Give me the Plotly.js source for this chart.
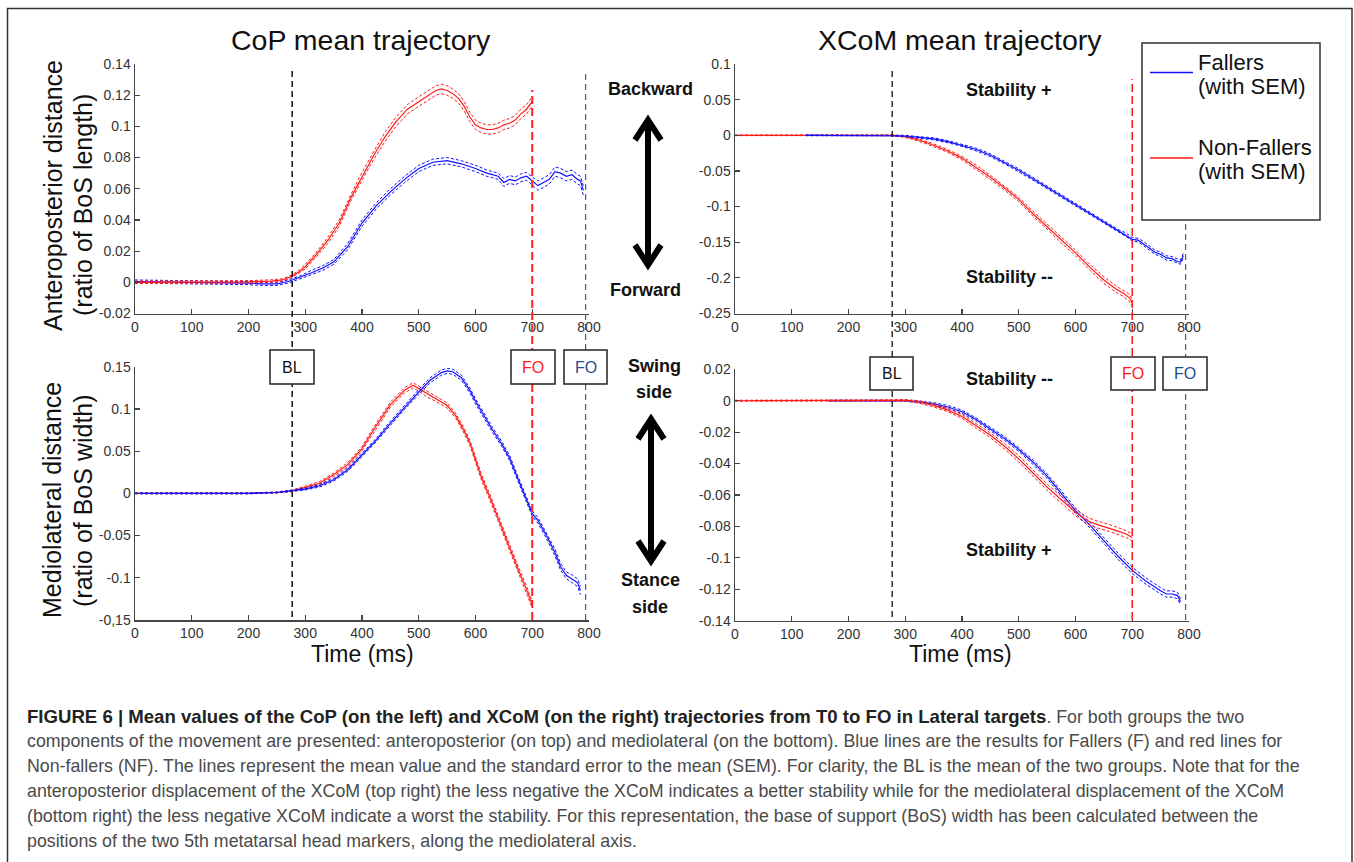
<!DOCTYPE html>
<html>
<head>
<meta charset="utf-8">
<script src="https://cdn.plot.ly/plotly-3.0.1.min.js"></script>
<style>html,body{margin:0;padding:0;background:#fff;}#chart{width:1354px;height:862px;}</style>
</head>
<body>
<div id="chart"></div>
<script>
// ---------- DATA ----------
// CoP anteroposterior (top-left)
const copAP_F_t = [0,50,100,150,200,225,250,270,290,310,330,350,375,400,425,450,475,500,525,550,575,600,620,640,650,660,670,680,690,700,710,720,730,740,750,760,770,780,785,790];
const copAP_F_m = [0.0005,0.0003,0,0,-0.0005,-0.001,-0.001,0.0005,0.003,0.006,0.009,0.013,0.023,0.038,0.049,0.058,0.066,0.073,0.077,0.078,0.076,0.073,0.070,0.068,0.064,0.066,0.065,0.067,0.068,0.065,0.062,0.064,0.066,0.071,0.070,0.068,0.069,0.066,0.065,0.059];
const copAP_F_s = [0.001,0.001,0.001,0.001,0.001,0.001,0.001,0.001,0.001,0.0015,0.0015,0.0015,0.002,0.002,0.002,0.002,0.002,0.002,0.002,0.002,0.002,0.002,0.002,0.002,0.0025,0.0025,0.0025,0.0025,0.0025,0.0025,0.003,0.003,0.003,0.003,0.003,0.003,0.003,0.003,0.003,0.003];
const copAP_NF_t = [0,50,100,150,200,240,260,277,290,300,320,340,360,380,400,420,440,460,480,500,520,530,540,550,560,570,580,590,600,610,620,630,640,650,660,670,680,690,700];
const copAP_NF_m = [0,0,0,0,0.0003,0.0008,0.0015,0.004,0.007,0.010,0.018,0.027,0.038,0.054,0.068,0.081,0.093,0.103,0.111,0.116,0.121,0.123,0.124,0.123,0.121,0.118,0.113,0.106,0.101,0.099,0.098,0.098,0.099,0.101,0.102,0.104,0.108,0.111,0.116];
const copAP_NF_s = [0.0008,0.0008,0.0008,0.0008,0.0008,0.0008,0.0008,0.0008,0.001,0.0015,0.0015,0.002,0.002,0.002,0.0025,0.0025,0.003,0.003,0.003,0.003,0.003,0.003,0.003,0.003,0.003,0.003,0.003,0.003,0.003,0.003,0.003,0.003,0.003,0.003,0.003,0.003,0.003,0.003,0.003];

// XCoM anteroposterior (top-right)
const xcomAP_F_t = [125,150,200,250,277,300,325,350,375,400,425,450,475,500,525,550,575,600,625,650,675,690,700,710,720,730,740,750,760,770,780,785,790];
const xcomAP_F_m = [0,0,0,0,0,-0.001,-0.003,-0.005,-0.009,-0.014,-0.020,-0.028,-0.038,-0.049,-0.061,-0.073,-0.085,-0.098,-0.110,-0.122,-0.134,-0.140,-0.146,-0.147,-0.152,-0.158,-0.164,-0.167,-0.172,-0.173,-0.177,-0.178,-0.169];
const xcomAP_F_s = [0.0005,0.0005,0.0005,0.0005,0.0005,0.001,0.001,0.0015,0.0015,0.0015,0.002,0.002,0.002,0.002,0.002,0.002,0.002,0.002,0.002,0.002,0.002,0.0025,0.0025,0.0025,0.003,0.003,0.003,0.003,0.003,0.003,0.003,0.003,0.003];
const xcomAP_NF_t = [0,50,100,150,200,250,277,300,325,350,375,400,425,450,475,500,525,550,575,600,625,650,670,685,695,700];
const xcomAP_NF_m = [0,0,0,0,0,0,0,-0.002,-0.007,-0.014,-0.022,-0.032,-0.045,-0.059,-0.074,-0.090,-0.110,-0.128,-0.147,-0.165,-0.185,-0.203,-0.215,-0.222,-0.228,-0.235];
const xcomAP_NF_s = [0.0005,0.0005,0.0005,0.0005,0.0005,0.0005,0.0005,0.001,0.0015,0.002,0.002,0.0025,0.003,0.003,0.003,0.003,0.0035,0.0035,0.004,0.004,0.004,0.0045,0.0045,0.0045,0.005,0.005];

// CoP mediolateral (bottom-left)
const copML_F_t = [0,50,100,150,200,250,277,300,325,350,375,400,425,450,475,500,520,540,550,560,575,590,600,615,630,645,660,675,690,700,710,725,740,750,760,770,780,785];
const copML_F_m = [0,0,0,0,0,0.001,0.003,0.005,0.009,0.016,0.028,0.045,0.063,0.083,0.102,0.120,0.134,0.143,0.145,0.144,0.137,0.122,0.109,0.092,0.075,0.060,0.042,0.017,-0.008,-0.024,-0.032,-0.050,-0.070,-0.087,-0.097,-0.101,-0.106,-0.115];
const copML_F_s = [0.0005,0.0005,0.0005,0.0005,0.0005,0.0005,0.001,0.001,0.0015,0.0015,0.002,0.002,0.002,0.0025,0.0025,0.003,0.003,0.003,0.003,0.003,0.003,0.003,0.003,0.003,0.003,0.003,0.003,0.003,0.003,0.003,0.0035,0.0035,0.004,0.004,0.004,0.0045,0.0045,0.005];
const copML_NF_t = [0,50,100,150,200,250,277,300,325,350,375,400,425,450,475,490,500,515,530,550,565,580,590,600,610,625,640,650,665,675,690,700];
const copML_NF_m = [0,0,0,0,0,0.001,0.003,0.007,0.012,0.022,0.034,0.053,0.080,0.105,0.122,0.128,0.124,0.117,0.112,0.104,0.092,0.074,0.060,0.040,0.020,-0.004,-0.030,-0.047,-0.072,-0.090,-0.114,-0.132];
const copML_NF_s = [0.0005,0.0005,0.0005,0.0005,0.0005,0.0005,0.001,0.0015,0.002,0.002,0.0025,0.0025,0.003,0.003,0.003,0.003,0.003,0.003,0.003,0.003,0.003,0.003,0.003,0.003,0.0035,0.0035,0.0035,0.0035,0.004,0.004,0.004,0.004];

// XCoM mediolateral (bottom-right)
const xcomML_F_t = [165,200,250,277,300,325,350,375,400,425,450,475,500,525,550,575,600,625,650,675,700,725,750,760,770,780,785];
const xcomML_F_m = [0,0,0,0,0,-0.0008,-0.002,-0.004,-0.007,-0.012,-0.018,-0.024,-0.031,-0.039,-0.048,-0.059,-0.070,-0.079,-0.089,-0.099,-0.108,-0.115,-0.121,-0.123,-0.123,-0.124,-0.128];
const xcomML_F_s = [0.0003,0.0003,0.0003,0.0003,0.0003,0.0005,0.0008,0.001,0.001,0.001,0.001,0.0012,0.0012,0.0015,0.0015,0.0015,0.0018,0.0018,0.002,0.002,0.002,0.002,0.002,0.002,0.002,0.002,0.002];
const xcomML_NF_t = [0,50,100,150,200,250,277,300,325,350,375,400,425,450,475,500,525,550,575,600,615,625,640,650,660,675,690,700];
const xcomML_NF_m = [0,0,0,0,0,0,0.0003,0.0003,-0.0008,-0.003,-0.006,-0.010,-0.016,-0.022,-0.029,-0.037,-0.046,-0.055,-0.063,-0.071,-0.075,-0.077,-0.079,-0.080,-0.081,-0.083,-0.085,-0.087];
const xcomML_NF_s = [0.0003,0.0003,0.0003,0.0003,0.0003,0.0003,0.0003,0.0005,0.0008,0.001,0.001,0.0012,0.0015,0.0015,0.0018,0.002,0.002,0.002,0.0022,0.0022,0.0022,0.0022,0.0022,0.0022,0.0022,0.0022,0.0022,0.0022];

// Event times (ms)
const eventBL = 277;
const eventFO_NF = 700;
const eventFO_F = 794;

// Tick labels
const xTicks = [0,100,200,300,400,500,600,700,800];
const yTicksTL = [-0.02,0,0.02,0.04,0.06,0.08,0.1,0.12,0.14];
const yTextTL = ['-0.02','0','0.02','0.04','0.06','0.08','0.1','0.12','0.14'];
const yTicksTR = [-0.25,-0.2,-0.15,-0.1,-0.05,0,0.05,0.1];
const yTextTR = ['-0.25','-0.2','-0.15','-0.1','-0.05','0','0.05','0.1'];
const yTicksBL = [-0.15,-0.1,-0.05,0,0.05,0.1,0.15];
const yTextBL = ['-0,15','-0.1','-0.05','0','0.05','0.1','0.15'];
const yTicksBR = [-0.14,-0.12,-0.1,-0.08,-0.06,-0.04,-0.02,0,0.02];
const yTextBR = ['-0.14','-0.12','-0.1','-0.08','-0.06','-0.04','-0.02','0','0.02'];

// ---------- DRAWING ----------
const W = 1354, H = 862;
const px = x => x / W;
const py = y => 1 - y / H;
const BLUE = '#1010ff', RED = '#ff1a1a';

const traces = [];
function addSeries(t, m, s, color, xa, ya) {
  const up = m.map((v, i) => v + s[i]);
  const lo = m.map((v, i) => v - s[i]);
  [up, lo].forEach(arr => traces.push({x: t, y: arr, xaxis: xa, yaxis: ya, type: 'scatter', mode: 'lines',
    line: {color: color, width: 1, dash: '3px,2px'}, hoverinfo: 'skip', showlegend: false}));
  traces.push({x: t, y: m, xaxis: xa, yaxis: ya, type: 'scatter', mode: 'lines',
    line: {color: color, width: 1.2}, showlegend: false});
}
addSeries(copAP_F_t, copAP_F_m, copAP_F_s, BLUE, 'x', 'y');
addSeries(copAP_NF_t, copAP_NF_m, copAP_NF_s, RED, 'x', 'y');
addSeries(xcomAP_NF_t, xcomAP_NF_m, xcomAP_NF_s, RED, 'x2', 'y2');
addSeries(xcomAP_F_t, xcomAP_F_m, xcomAP_F_s, BLUE, 'x2', 'y2');
addSeries(copML_NF_t, copML_NF_m, copML_NF_s, RED, 'x3', 'y3');
addSeries(copML_F_t, copML_F_m, copML_F_s, BLUE, 'x3', 'y3');
addSeries(xcomML_F_t, xcomML_F_m, xcomML_F_s, BLUE, 'x4', 'y4');
addSeries(xcomML_NF_t, xcomML_NF_m, xcomML_NF_s, RED, 'x4', 'y4');

const FONT = 'Liberation Sans, Arial, sans-serif';
const tickFont = {family: FONT, size: 14, color: '#333'};
function xAx(dom, anchor) {
  return {domain: dom, anchor: anchor, range: [0, 800], tickvals: xTicks, ticktext: xTicks.map(String),
    showline: true, linecolor: '#444', linewidth: 1.5, ticks: 'inside', ticklen: 5, tickcolor: '#444', tickwidth: 1.2,
    showgrid: false, zeroline: false, tickfont: tickFont, fixedrange: true};
}
function yAx(dom, anchor, range, vals, text) {
  return {domain: dom, anchor: anchor, range: range, tickvals: vals, ticktext: text,
    showline: true, linecolor: '#444', linewidth: 1.5, ticks: 'inside', ticklen: 5, tickcolor: '#444', tickwidth: 1.2,
    showgrid: false, zeroline: false, tickfont: tickFont, fixedrange: true};
}
const xL = [px(135), px(589)], xR = [px(735), px(1189)];

const shapes = [];
// outer frame
shapes.push({type: 'rect', xref: 'paper', yref: 'paper', x0: px(7.5), x1: px(1352), y0: py(880), y1: py(8.5),
  line: {color: '#333', width: 1.5}, fillcolor: 'rgba(0,0,0,0)', layer: 'below'});
// vertical event lines
function vline(xref, xv, yTop, yBot, color, width, dash) {
  shapes.push({type: 'line', xref: xref, yref: 'paper', x0: xv, x1: xv, y0: py(yBot), y1: py(yTop),
    line: {color: color, width: width, dash: dash}});
}
vline('x', eventBL, 71, 617, '#111', 1.5, '6px,4px');
vline('x', eventFO_NF, 90, 620, '#ff2020', 2, '8px,4px');
vline('x', eventFO_F, 71, 620, '#2d5ea8', 1.2, '6px,4px');
vline('x2', eventBL, 71, 617, '#111', 1.3, '6px,4px');
vline('x2', eventFO_NF, 79, 620, '#ff2020', 1.6, '8px,4px');
vline('x2', eventFO_F, 221, 620, '#2d5ea8', 1.2, '6px,4px');

// boxes
const annotations = [];
function box(x0, x1, y0, y1, text, color) {
  shapes.push({type: 'rect', xref: 'paper', yref: 'paper', x0: px(x0), x1: px(x1), y0: py(y1), y1: py(y0),
    line: {color: '#222', width: 1.5}, fillcolor: '#fff'});
  annotations.push({xref: 'paper', yref: 'paper', x: px((x0 + x1) / 2), y: py((y0 + y1) / 2), text: text,
    showarrow: false, xanchor: 'center', yanchor: 'middle', font: {family: FONT, size: 16, color: color}});
}
box(270, 314, 350, 384, 'BL', '#111');
box(511, 555, 350, 384, 'FO', '#ff1a1a');
box(564, 607, 350, 384, 'FO', '#1f4e8c');
box(870, 913, 357, 390, 'BL', '#111');
box(1111, 1155, 357, 390, 'FO', '#ff1a1a');
box(1163, 1207, 357, 390, 'FO', '#1f4e8c');

// legend box
shapes.push({type: 'rect', xref: 'paper', yref: 'paper', x0: px(1142), x1: px(1320), y0: py(220), y1: py(43),
  line: {color: '#333', width: 1.5}, fillcolor: '#fff'});
shapes.push({type: 'line', xref: 'paper', yref: 'paper', x0: px(1150), x1: px(1193), y0: py(72.5), y1: py(72.5),
  line: {color: BLUE, width: 1.5}});
shapes.push({type: 'line', xref: 'paper', yref: 'paper', x0: px(1150), x1: px(1193), y0: py(158), y1: py(158),
  line: {color: RED, width: 1.5}});
[['Fallers', 62], ['(with SEM)', 87], ['Non-Fallers', 147], ['(with SEM)', 172]].forEach(([t, y]) => {
  annotations.push({xref: 'paper', yref: 'paper', x: px(1196), y: py(y), text: t, showarrow: false,
    xanchor: 'left', yanchor: 'middle', font: {family: FONT, size: 22, color: '#111'}});
});

// double arrows
function dblArrow(x, yTop, yBot) {
  const hw = 13, hh = 22;
  const p = (a, b) => px(a) + ',' + py(b);
  const style = {color: '#000', width: 6};
  shapes.push({type: 'path', xref: 'paper', yref: 'paper', path: 'M' + p(x, yTop + 3) + ' L' + p(x, yBot - 3), line: style});
  shapes.push({type: 'path', xref: 'paper', yref: 'paper', path: 'M' + p(x - hw, yTop + hh) + ' L' + p(x, yTop + 2) + ' L' + p(x + hw, yTop + hh), line: style});
  shapes.push({type: 'path', xref: 'paper', yref: 'paper', path: 'M' + p(x - hw, yBot - hh) + ' L' + p(x, yBot - 2) + ' L' + p(x + hw, yBot - hh), line: style});
}
dblArrow(648, 118, 267);
dblArrow(651, 417, 563);

function label(text, x, y, size, bold, color) {
  annotations.push({xref: 'paper', yref: 'paper', x: px(x), y: py(y), text: bold ? '<b>' + text + '</b>' : text,
    showarrow: false, xanchor: 'center', yanchor: 'middle', font: {family: FONT, size: size, color: color || '#111'}});
}
label('Backward', 650, 89, 18, true);
label('Forward', 645, 290, 18, true);
label('Swing', 654, 366, 18, true);
label('side', 654, 392, 18, true);
label('Stance', 650, 580, 18, true);
label('side', 650, 607, 18, true);
label('Stability +', 1009, 90, 18, true);
label('Stability --', 1009, 277, 18, true);
label('Stability --', 1009, 379, 18, true);
label('Stability +', 1009, 550, 18, true);

// titles
label('CoP mean trajectory', 361, 40, 28.5, false, '#111');
label('XCoM mean trajectory', 960, 40, 28.5, false, '#111');
label('Time (ms)', 362, 654, 23, false, '#111');
label('Time (ms)', 960, 654, 23, false, '#111');
function vlabel(text, x, y) {
  annotations.push({xref: 'paper', yref: 'paper', x: px(x), y: py(y), text: text, textangle: -90, showarrow: false,
    xanchor: 'center', yanchor: 'middle', font: {family: FONT, size: 25, color: '#111'}});
}
vlabel('Anteroposterior distance', 53, 196);
vlabel('(ratio of BoS length)', 83, 205);
vlabel('Mediolateral distance', 52, 500);
vlabel('(ratio of BoS width)', 83, 501);

// caption
const captionLines = [
  '<b><span style="color:#222;font-size:18.6px">FIGURE 6 | Mean values of the CoP (on the left) and XCoM (on the right) trajectories from T0 to FO in Lateral targets</span></b>. For both groups the two',
  'components of the movement are presented: anteroposterior (on top) and mediolateral (on the bottom). Blue lines are the results for Fallers (F) and red lines for',
  'Non-fallers (NF). The lines represent the mean value and the standard error to the mean (SEM). For clarity, the BL is the mean of the two groups. Note that for the',
  'anteroposterior displacement of the XCoM (top right) the less negative the XCoM indicates a better stability while for the mediolateral displacement of the XCoM',
  '(bottom right) the less negative XCoM indicate a worst the stability. For this representation, the base of support (BoS) width has been calculated between the',
  'positions of the two 5th metatarsal head markers, along the mediolateral axis.'
];
const captionY = [716, 741, 766, 791, 816, 841];
captionLines.forEach((t, i) => {
  annotations.push({xref: 'paper', yref: 'paper', x: px(25), y: py(captionY[i]), text: t, showarrow: false,
    xanchor: 'left', yanchor: 'middle', align: 'left', font: {family: FONT, size: 17.8, color: '#4a4a4a'}});
});

const layout = {
  width: W, height: H, margin: {l: 0, r: 0, t: 0, b: 0},
  paper_bgcolor: '#fff', plot_bgcolor: 'rgba(0,0,0,0)', showlegend: false,
  font: {family: FONT},
  xaxis: xAx(xL, 'y'), yaxis: yAx([py(313.5), py(64)], 'x', [-0.02, 0.14], yTicksTL, yTextTL),
  xaxis2: xAx(xR, 'y2'), yaxis2: yAx([py(313.5), py(64)], 'x2', [-0.25, 0.1], yTicksTR, yTextTR),
  xaxis3: xAx(xL, 'y3'), yaxis3: yAx([py(620), py(366.7)], 'x3', [-0.15, 0.15], yTicksBL, yTextBL),
  xaxis4: xAx(xR, 'y4'), yaxis4: yAx([py(620.7), py(369.3)], 'x4', [-0.14, 0.02], yTicksBR, yTextBR),
  shapes: shapes, annotations: annotations
};
Plotly.newPlot('chart', traces, layout, {displayModeBar: false, staticPlot: true});
</script>
</body>
</html>
